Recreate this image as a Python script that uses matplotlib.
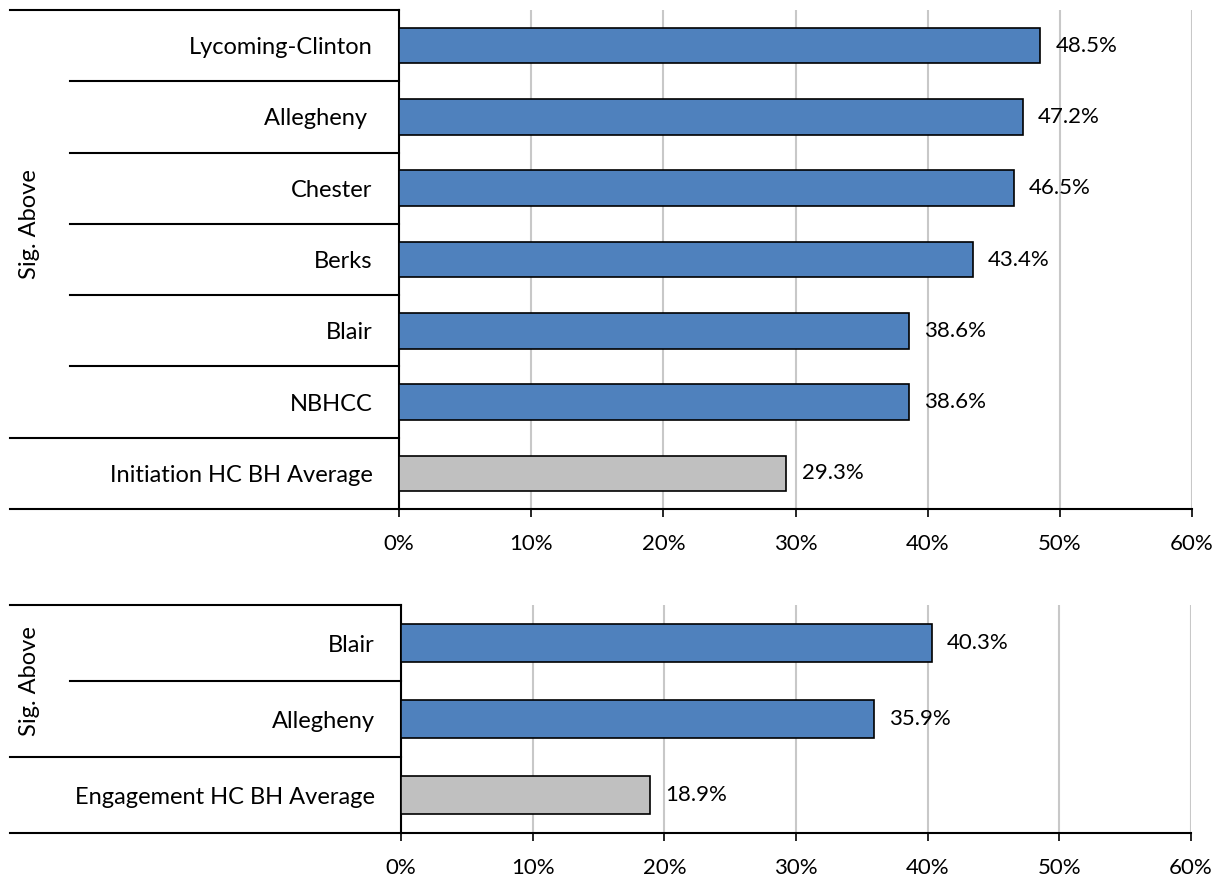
import matplotlib
matplotlib.use("Agg")
import matplotlib.pyplot as plt
from matplotlib.transforms import blended_transform_factory

plt.rcParams['font.family'] = ['Lato', 'DejaVu Sans']

init_labels = ['Lycoming-Clinton', 'Allegheny ', 'Chester', 'Berks', 'Blair', 'NBHCC',
               'Initiation HC BH Average']
init_values = [48.5, 47.2, 46.5, 43.4, 38.6, 38.6, 29.3]

eng_labels = ['Blair', 'Allegheny', 'Engagement HC BH Average']
eng_values = [40.3, 35.9, 18.9]

group_label = 'Sig. Above'
xticks = [0, 10, 20, 30, 40, 50, 60]

BLUE = '#4F81BD'
GREY = '#C0C0C0'
FS_CAT = 17
FS_NUM = 16

fig = plt.figure(figsize=(12.2, 8.82), dpi=100)
W, H = 1220, 882


def panel(rect, labels, values):
    ax = fig.add_axes(rect)
    n = len(labels)
    ys = list(range(n))
    colors = [BLUE] * (n - 1) + [GREY]
    ax.barh(ys, values, height=0.5, color=colors, edgecolor='black',
            linewidth=1.2, zorder=3)
    for y, v in zip(ys, values):
        ax.annotate(f'{v:.1f}%', (v, y), xytext=(11, 0), textcoords='offset points',
                    ha='left', va='center', fontsize=FS_NUM, zorder=4)
    ax.set_xlim(0, 60)
    ax.set_ylim(n - 0.5, -0.5)
    ax.set_xticks(xticks)
    ax.set_xticklabels([f'{t}%' for t in xticks], fontsize=FS_NUM)
    ax.set_yticks(ys)
    ax.set_yticklabels(labels, fontsize=FS_CAT)
    ax.tick_params(axis='y', length=0, pad=19)
    ax.tick_params(axis='x', direction='out', length=6, width=1.2, pad=12)
    ax.grid(axis='x', color='#C8C8C8', linewidth=1.5, zorder=0)
    for s in ['top', 'right']:
        ax.spines[s].set_visible(False)
    ax.spines['left'].set_linewidth(1.5)
    ax.spines['bottom'].set_linewidth(1.5)

    # category axis separators, group column on the left
    tr = blended_transform_factory(fig.transFigure, ax.transData)
    x_end = rect[0]
    full = 10 / W
    inner = 70 / W
    bounds = [-0.5 + k for k in range(n + 1)]
    for k, b in enumerate(bounds):
        x0 = full if k in (0, n - 1, n) else inner
        ax.plot([x0, x_end], [b, b], color='black', linewidth=1.5,
                transform=tr, clip_on=False, zorder=5)
    ax.text(30 / W, (n - 2) / 2, group_label, transform=tr, rotation=90,
            ha='center', va='center', fontsize=FS_CAT)
    return ax


panel([399 / W, 1 - 509 / H, (1192 - 399) / W, (509 - 10) / H], init_labels, init_values)
panel([401 / W, 1 - 833 / H, (1191 - 401) / W, (833 - 605) / H], eng_labels, eng_values)

fig.savefig('out.png', dpi=100)
